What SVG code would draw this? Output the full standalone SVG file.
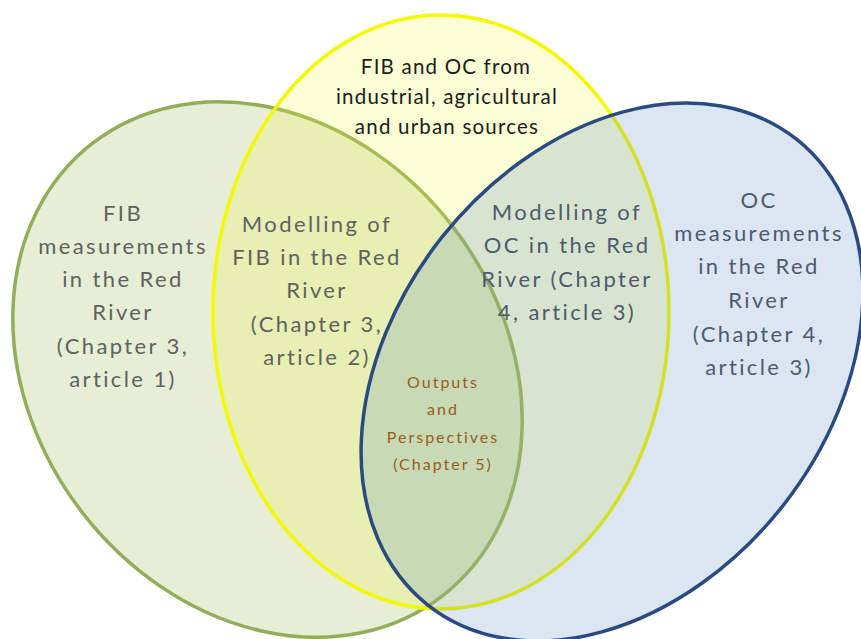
<svg xmlns="http://www.w3.org/2000/svg" width="861" height="639" viewBox="0 0 861 639">
<style>
  .lbl { font-family: Lato, "Liberation Sans", sans-serif; text-anchor: middle; }
  .gray { fill: #616161; font-size: 22px; letter-spacing: 2.4px; }
  .slate { fill: #4d5b6e; font-size: 22px; letter-spacing: 2.4px; }
  .top { fill: #1c1c1c; font-size: 20.5px; letter-spacing: 1.2px; }
  .out { fill: #9c5c20; font-size: 16px; letter-spacing: 2px; }
  .set { stroke-width: 3.5; }
</style>
<rect width="861" height="639" fill="#ffffff"/>
<g id="set-fib">
  <ellipse class="set" cx="267.5" cy="369.5" rx="234" ry="286" transform="rotate(-37.7 267.5 369.5)" fill="#9bbb59" fill-opacity="0.25" stroke="#94ad5a"/>
</g>
<g id="set-sources">
  <ellipse class="set" cx="441" cy="312" rx="228" ry="297" fill="#eef83a" fill-opacity="0.22" stroke="#f4f800"/>
</g>
<g id="set-oc">
  <ellipse class="set" cx="612" cy="372" rx="217" ry="297" transform="rotate(38.4 612 372)" fill="#4f81bd" fill-opacity="0.2" stroke="#2a4a82"/>
</g>
<g id="connectors"></g>
<g id="label-sources" class="lbl top">
  <text x="446" y="74">FIB and OC from</text>
  <text x="447" y="104">industrial, agricultural</text>
  <text x="447" y="134">and urban sources</text>
</g>
<g id="label-fib" class="lbl gray">
  <text x="123" y="221">FIB</text>
  <text x="123" y="254">measurements</text>
  <text x="123" y="287">in the Red</text>
  <text x="123" y="320">River</text>
  <text x="123" y="354">(Chapter 3,</text>
  <text x="123" y="387">article 1)</text>
</g>
<g id="label-fib-model" class="lbl gray">
  <text x="317" y="232">Modelling of</text>
  <text x="317" y="265">FIB in the Red</text>
  <text x="317" y="298">River</text>
  <text x="317" y="332">(Chapter 3,</text>
  <text x="317" y="365">article 2)</text>
</g>
<g id="label-oc-model" class="lbl slate">
  <text x="567" y="220">Modelling of</text>
  <text x="567" y="253">OC in the Red</text>
  <text x="567" y="287">River (Chapter</text>
  <text x="567" y="320">4, article 3)</text>
</g>
<g id="label-oc" class="lbl slate">
  <text x="759" y="208">OC</text>
  <text x="759" y="241">measurements</text>
  <text x="759" y="274">in the Red</text>
  <text x="759" y="308">River</text>
  <text x="759" y="342">(Chapter 4,</text>
  <text x="759" y="375">article 3)</text>
</g>
<g id="label-outputs" class="lbl out">
  <text x="443" y="388">Outputs</text>
  <text x="443" y="415">and</text>
  <text x="443" y="443">Perspectives</text>
  <text x="443" y="470">(Chapter 5)</text>
</g>
</svg>
